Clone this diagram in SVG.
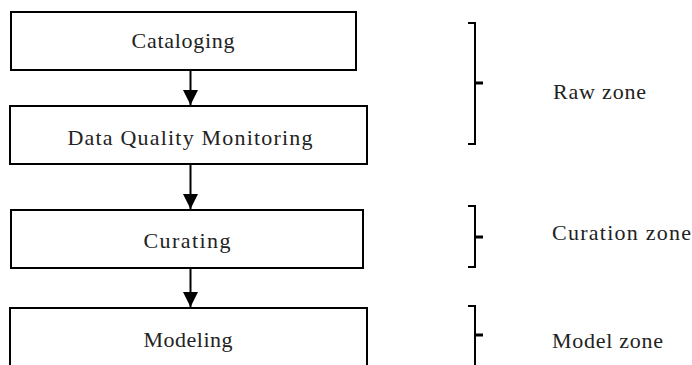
<svg xmlns="http://www.w3.org/2000/svg" width="692" height="365" viewBox="0 0 692 365">
<style>
.box{fill:#fff;stroke:#000;stroke-width:2}
.t{font-family:"Liberation Serif","Times New Roman",serif;font-size:22px;fill:#222}
.br{fill:none;stroke:#000;stroke-width:2}
.tick{stroke:#000;stroke-width:3}
.con{stroke:#000;stroke-width:2}
</style>
<defs>
<marker id="ah" markerWidth="16" markerHeight="16" refX="15" refY="8" orient="auto" markerUnits="userSpaceOnUse">
<path d="M0,0.5 L15,8 L0,15.5 Z" fill="#000"/>
</marker>
</defs>
<rect width="692" height="365" fill="#fff"/>
<g id="n-cataloging"><rect class="box" x="11" y="12" width="345" height="58"/><text class="t" x="183" y="48" text-anchor="middle" textLength="103" lengthAdjust="spacing">Cataloging</text></g>
<g id="n-dqm"><rect class="box" x="10" y="106" width="357" height="58"/><text class="t" x="190" y="145" text-anchor="middle" textLength="245" lengthAdjust="spacing">Data Quality Monitoring</text></g>
<g id="n-curating"><rect class="box" x="11" y="210" width="352" height="58"/><text class="t" x="187" y="248" text-anchor="middle" textLength="87" lengthAdjust="spacing">Curating</text></g>
<g id="n-modeling"><rect class="box" x="10" y="308" width="357" height="70"/><text class="t" x="188" y="347" text-anchor="middle" textLength="89" lengthAdjust="spacing">Modeling</text></g>
<g id="connectors">
<line class="con" x1="190.5" y1="70" x2="190.5" y2="105" marker-end="url(#ah)"/>
<line class="con" x1="190.5" y1="164" x2="190.5" y2="209" marker-end="url(#ah)"/>
<line class="con" x1="190.5" y1="268" x2="190.5" y2="307" marker-end="url(#ah)"/>
</g>
<g id="z-raw"><path class="br" d="M468,23 H475 V144 H468"/><line class="tick" x1="475" y1="83" x2="483" y2="83"/><text class="t" x="553" y="99" textLength="93" lengthAdjust="spacing">Raw zone</text></g>
<g id="z-curation"><path class="br" d="M468,206 H475 V267 H468"/><line class="tick" x1="475" y1="237" x2="483" y2="237"/><text class="t" x="552" y="240" textLength="139" lengthAdjust="spacing">Curation zone</text></g>
<g id="z-model"><path class="br" d="M468,306 H475 V370"/><line class="tick" x1="475" y1="335" x2="483" y2="335"/><text class="t" x="552" y="348" textLength="111" lengthAdjust="spacing">Model zone</text></g>
</svg>
